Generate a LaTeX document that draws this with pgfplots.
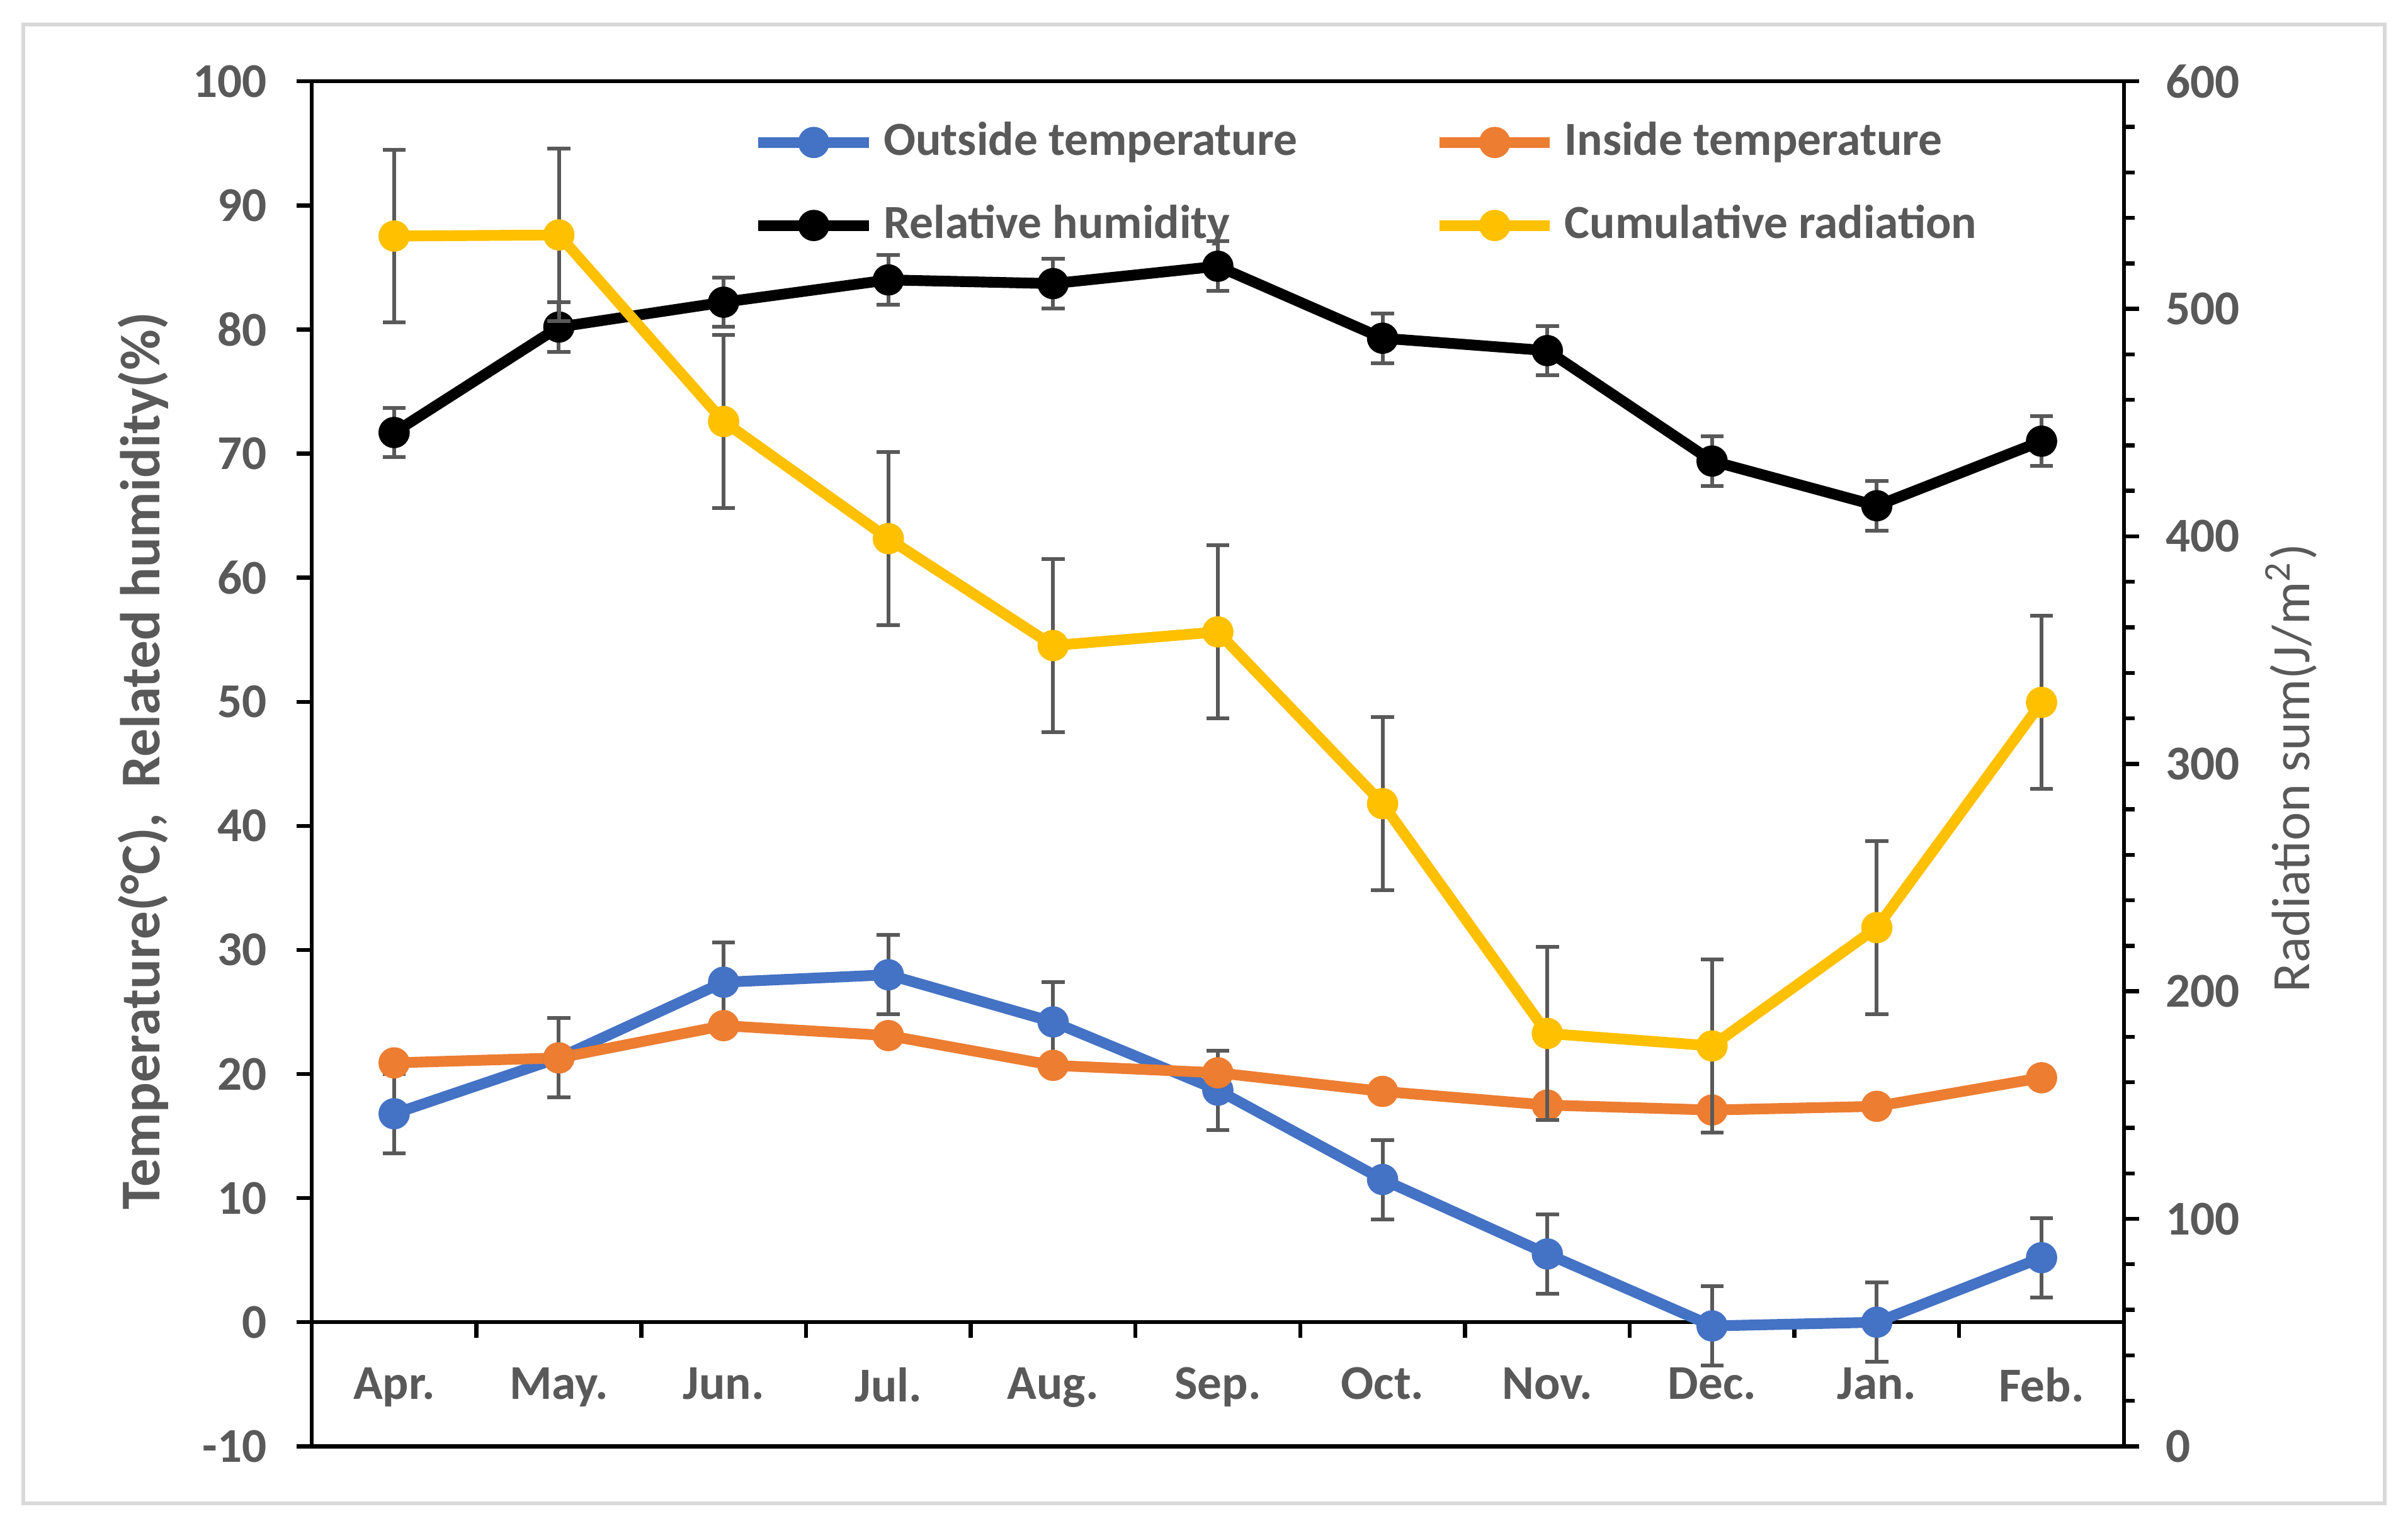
\documentclass[border=0pt]{standalone}
\usepackage{fontspec}
\setmainfont{Carlito}
\usepackage{pgfplots}
\usepackage{pgfplotstable}
\pgfplotsset{compat=1.18}

\definecolor{cblue}{HTML}{4472C4}
\definecolor{corange}{HTML}{ED7D31}
\definecolor{cyellow}{HTML}{FFC000}
\definecolor{textgray}{HTML}{595959}
\definecolor{framegray}{HTML}{D9D9D9}

% month index, value, error
\pgfplotstableread{
x y e
1 16.8 3.2
2 21.3 3.2
3 27.4 3.2
4 28.0 3.2
5 24.2 3.2
6 18.7 3.2
7 11.5 3.2
8 5.5 3.2
9 -0.3 3.2
10 0.0 3.2
11 5.2 3.2
}\outside
\pgfplotstableread{
x y
1 20.9
2 21.3
3 23.9
4 23.1
5 20.7
6 20.1
7 18.6
8 17.5
9 17.1
10 17.4
11 19.7
}\inside
\pgfplotstableread{
x y e
1 71.7 2.0
2 80.2 2.0
3 82.2 2.0
4 84.0 2.0
5 83.7 2.0
6 85.1 2.0
7 79.3 2.0
8 78.3 2.0
9 69.4 2.0
10 65.8 2.0
11 71.0 2.0
}\humidity
\pgfplotstableread{
x y e
1 532.0 38
2 532.5 38
3 450.5 38
4 399.0 38
5 352.0 38
6 358.0 38
7 282.5 38
8 181.5 38
9 176.0 38
10 228.0 38
11 327.0 38
}\radiation

\begin{document}
\begin{tikzpicture}
\useasboundingbox (0,0) rectangle (15.68,9.906);
\draw[framegray, line width=0.7pt] (0.15,0.116) rectangle (15.53,9.746);

\pgfplotsset{
  common/.style={
    at={(2.03cm,0.486cm)}, anchor=south west,
    scale only axis, width=11.80cm, height=8.89cm,
    xmin=0.5, xmax=11.5,
    tick align=outside,
    major tick length=1mm,
    tick label style={text=textgray, font=\bfseries\fontsize{9}{11}\selectfont},
    /pgf/number format/assume math mode=true,
    axis line style={black, line width=0.75pt},
    every tick/.style={black, line width=0.75pt},
    clip=false,
  },
  series/.style={line width=2pt, mark=*, mark size=2.7pt,
    mark options={solid, fill=#1, draw=#1, line width=0.4pt}, color=#1},
  bars/.style={error bars/.cd, y dir=both, y explicit,
    error bar style={textgray, line width=0.7pt},
    error mark options={rotate=90, mark size=0.75mm, textgray, line width=0.7pt}},
  legend image code/.code={\draw[mark repeat=2, mark phase=2, #1]
    plot coordinates {(0cm,0cm) (0.36cm,0cm) (0.72cm,0cm)};},
}

\begin{axis}[common,
  ymin=-10, ymax=100,
  axis x line*=middle, axis y line*=left,
  ytick={-10,0,...,100},
  yticklabel style={xshift=-0.7mm},
  xtick={1,...,11},
  xticklabels={Apr.,May.,Jun.,Jul.,Aug.,Sep.,Oct.,Nov.,Dec.,Jan.,Feb.},
  major x tick style={draw=none},
  minor xtick={1.5,2.5,...,10.5},
  minor tick length=1mm,
  xticklabel style={yshift=-0.7mm},
  ylabel={Temperature(°C),\ \ Related humidity(\%)},
  ylabel style={at={(axis description cs:-0.093,0.502)}, anchor=center,
    text=textgray, font=\bfseries\fontsize{10.4}{12}\selectfont},
  legend columns=2,
  legend cell align=left,
  legend style={draw=none, fill=none, at={(axis description cs:0.234,0.987)},
    anchor=north west, text=textgray,
    font=\bfseries\fontsize{8.8}{10.5}\selectfont, row sep=1.3mm,
    nodes={inner xsep=0.6mm},
    /tikz/every even column/.append style={column sep=8.3mm}},
]
\draw[black, line width=0.75pt] (rel axis cs:0,0) rectangle (rel axis cs:1,1);
\addplot[series=cblue, bars] table[x=x, y=y, y error=e] {\outside};
\addlegendentry{Outside temperature}
\addplot[series=corange] table[x=x, y=y] {\inside};
\addlegendentry{Inside temperature}
\addplot[series=black, bars] table[x=x, y=y, y error=e] {\humidity};
\addlegendentry{Relative humidity}
\addlegendimage{series=cyellow}
\addlegendentry{Cumulative radiation}
\end{axis}

\begin{axis}[common,
  ymin=0, ymax=600,
  axis x line=none, axis y line*=right,
  ytick={0,100,...,600},
  yticklabel style={xshift=0.5mm},
  minor y tick num=4,
  minor tick length=0.7mm,
  ylabel={Radiation sum(J/m\textsuperscript{2})},
  ylabel style={at={(axis description cs:1.0924,0.497)}, anchor=center,
    text=textgray, font=\fontsize{10}{12}\selectfont},
]
\addplot[series=cyellow, bars] table[x=x, y=y, y error=e] {\radiation};
\end{axis}
\end{tikzpicture}
\end{document}
